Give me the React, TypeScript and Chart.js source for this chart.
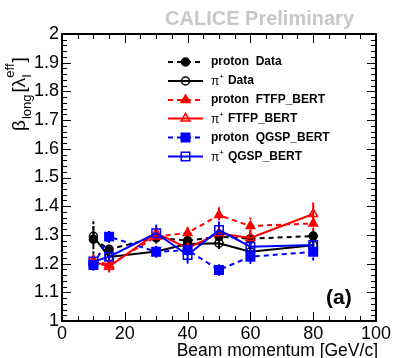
import React, { useEffect, useRef } from 'react';
import { Chart, registerables } from 'chart.js';

Chart.register(...registerables);

const momenta = [10, 15, 30, 40, 50, 60, 80];

const protonData = [1.285, 1.25, 1.29, 1.28, 1.294, 1.287, 1.296];
const protonDataErr = [0.07, 0.03, 0.02, 0.02, 0.02, 0.02, 0.02];
const piData = [1.295, 1.223, 1.242, 1.268, 1.271, 1.241, 1.264];
const piDataErr = [0.035, 0.02, 0.02, 0.02, 0.02, 0.02, 0.02];
const protonFTFP = [1.212, 1.195, 1.294, 1.307, 1.369, 1.331, 1.34];
const protonFTFPErr = [0.02, 0.02, 0.02, 0.02, 0.035, 0.03, 0.025];
const piFTFP = [1.207, 1.189, 1.306, 1.254, 1.306, 1.289, 1.373];
const piFTFPErr = [0.02, 0.02, 0.02, 0.02, 0.02, 0.03, 0.04];
const protonQGSP = [1.195, 1.294, 1.241, 1.247, 1.178, 1.224, 1.241];
const protonQGSPErr = [0.02, 0.02, 0.02, 0.02, 0.02, 0.025, 0.03];
const piQGSP = [1.207, 1.224, 1.306, 1.23, 1.317, 1.259, 1.265];
const piQGSPErr = [0.02, 0.02, 0.03, 0.03, 0.03, 0.02, 0.02];

const legendLabels = [
  ['', 'proton  Data'],
  ['π', 'Data'],
  ['', 'proton  FTFP_BERT'],
  ['π', 'FTFP_BERT'],
  ['', 'proton  QGSP_BERT'],
  ['π', 'QGSP_BERT'],
];

const xTitle = 'Beam momentum [GeV/c]';
const topLabel = 'CALICE Preliminary';
const panelLabel = '(a)';

const FONT = '"Liberation Sans", Arial, Helvetica, sans-serif';
const BLACK = '#000000';
const RED = '#ff0000';
const BLUE = '#0000ff';
const DASH = [5, 4];

type Series = {
  values: number[];
  errs: number[];
  color: string;
  dashed: boolean;
  style: string;
  filled: boolean;
  radius: number;
};

const series: Series[] = [
  { values: protonData, errs: protonDataErr, color: BLACK, dashed: true, style: 'circle', filled: true, radius: 4 },
  { values: piData, errs: piDataErr, color: BLACK, dashed: false, style: 'circle', filled: false, radius: 4 },
  { values: protonFTFP, errs: protonFTFPErr, color: RED, dashed: true, style: 'triangle', filled: true, radius: 5 },
  { values: piFTFP, errs: piFTFPErr, color: RED, dashed: false, style: 'triangle', filled: false, radius: 5 },
  { values: protonQGSP, errs: protonQGSPErr, color: BLUE, dashed: true, style: 'rect', filled: true, radius: 6 },
  { values: piQGSP, errs: piQGSPErr, color: BLUE, dashed: false, style: 'rect', filled: false, radius: 6 },
];

function drawMarker(ctx: CanvasRenderingContext2D, s: Series, x: number, y: number) {
  ctx.save();
  ctx.setLineDash([]);
  ctx.lineWidth = 1.5;
  ctx.strokeStyle = s.color;
  ctx.fillStyle = s.filled ? s.color : '#ffffff';
  ctx.beginPath();
  const r = s.radius;
  if (s.style === 'circle') {
    ctx.arc(x, y, r, 0, Math.PI * 2);
  } else if (s.style === 'triangle') {
    const h = r * 1.5;
    const half = r * 0.9;
    ctx.moveTo(x, y - r);
    ctx.lineTo(x + half, y - r + h);
    ctx.lineTo(x - half, y - r + h);
    ctx.closePath();
  } else {
    const a = r * Math.SQRT1_2;
    ctx.rect(x - a, y - a, 2 * a, 2 * a);
  }
  if (s.filled) ctx.fill();
  ctx.stroke();
  ctx.restore();
}

const decorPlugin = {
  id: 'decor',
  beforeDatasetsDraw(chart: any) {
    const ctx: CanvasRenderingContext2D = chart.ctx;
    const xs = chart.scales.x;
    const ys = chart.scales.y;
    ctx.save();
    series.forEach((s) => {
      ctx.strokeStyle = s.color;
      ctx.lineWidth = 2;
      ctx.setLineDash(s.dashed ? [3, 2] : []);
      s.values.forEach((v, i) => {
        const px = xs.getPixelForValue(momenta[i]);
        ctx.beginPath();
        ctx.moveTo(px, ys.getPixelForValue(v - s.errs[i]));
        ctx.lineTo(px, ys.getPixelForValue(v + s.errs[i]));
        ctx.stroke();
      });
    });
    ctx.restore();
  },
  afterDraw(chart: any) {
    const ctx: CanvasRenderingContext2D = chart.ctx;
    const xs = chart.scales.x;
    const ys = chart.scales.y;
    const area = chart.chartArea;
    ctx.save();
    // ticks (inside)
    ctx.strokeStyle = '#000';
    ctx.lineWidth = 1;
    ctx.beginPath();
    for (let v = 0; v <= 100; v += 5) {
      const px = Math.round(xs.getPixelForValue(v)) + 0.5;
      const len = v % 20 === 0 ? 9 : 5;
      ctx.moveTo(px, area.bottom);
      ctx.lineTo(px, area.bottom - len);
      ctx.moveTo(px, area.top);
      ctx.lineTo(px, area.top + len);
    }
    for (let k = 0; k <= 50; k++) {
      const v = 1 + k * 0.02;
      const py = Math.round(ys.getPixelForValue(v)) + 0.5;
      const len = k % 5 === 0 ? 9 : 5;
      ctx.moveTo(area.left, py);
      ctx.lineTo(area.left + len, py);
      ctx.moveTo(area.right, py);
      ctx.lineTo(area.right - len, py);
    }
    ctx.stroke();
    // frame
    ctx.lineWidth = 2;
    ctx.strokeRect(area.left, area.top, area.right - area.left, area.bottom - area.top);

    // legend
    const lx0 = 168;
    const lx1 = 203;
    const tx = 211;
    const rowY = [62, 81, 100, 118.5, 137.5, 156.5];
    series.forEach((s, i) => {
      const y = rowY[i];
      ctx.strokeStyle = s.color;
      ctx.lineWidth = 2;
      ctx.setLineDash(s.dashed ? DASH : []);
      ctx.beginPath();
      ctx.moveTo(lx0, y);
      ctx.lineTo(lx1, y);
      ctx.stroke();
      ctx.setLineDash([]);
      drawMarker(ctx, s, (lx0 + lx1) / 2, y);
      const [prefix, label] = legendLabels[i];
      ctx.fillStyle = '#000';
      ctx.textBaseline = 'middle';
      ctx.textAlign = 'left';
      let x = tx;
      if (prefix) {
        ctx.font = `12px ${FONT}`;
        ctx.fillText(prefix, x, y + 1);
        x += ctx.measureText(prefix).width;
        ctx.font = `8px ${FONT}`;
        ctx.fillText('+', x, y - 4);
        x += ctx.measureText('+').width + 4;
      }
      ctx.font = `bold 12px ${FONT}`;
      ctx.fillText(label, x, y);
    });

    // top label
    ctx.font = `bold 20px ${FONT}`;
    ctx.fillStyle = '#c8c8c8';
    ctx.textAlign = 'right';
    ctx.textBaseline = 'alphabetic';
    ctx.fillText(topLabel, 354, 25);

    // panel label
    ctx.font = `bold 21px ${FONT}`;
    ctx.fillStyle = '#000';
    ctx.textAlign = 'left';
    ctx.fillText(panelLabel, 326, 304);

    // x title
    ctx.font = `17.5px ${FONT}`;
    ctx.textAlign = 'right';
    ctx.fillText(xTitle, 378, 356);

    // y title: β_long [λ_I^eff]
    ctx.translate(25, 131);
    ctx.rotate(-Math.PI / 2);
    ctx.textAlign = 'left';
    ctx.textBaseline = 'alphabetic';
    let x = 0;
    ctx.font = `19px ${FONT}`;
    ctx.fillText('β', x, 0);
    x += ctx.measureText('β').width + 1;
    ctx.font = `13px ${FONT}`;
    ctx.fillText('long', x, 6);
    x += ctx.measureText('long').width + 2;
    ctx.font = `19px ${FONT}`;
    ctx.fillText('[', x, 0);
    x += ctx.measureText('[').width;
    ctx.fillText('λ', x, 0);
    x += ctx.measureText('λ').width;
    ctx.font = `13px ${FONT}`;
    ctx.fillText('I', x, 6);
    ctx.fillText('eff', x, -11);
    x += ctx.measureText('eff').width + 1;
    ctx.font = `19px ${FONT}`;
    ctx.fillText(']', x, 0);
    ctx.restore();
  },
};

export default function App() {
  const canvasRef = useRef<HTMLCanvasElement | null>(null);

  useEffect(() => {
    if (!canvasRef.current) return;
    const datasets = series.map((s, i) => ({
      label: legendLabels[i].join(' '),
      data: momenta.map((m, j) => ({ x: m, y: s.values[j] })),
      borderColor: s.color,
      backgroundColor: s.filled ? s.color : 'rgba(255,255,255,1)',
      pointBackgroundColor: s.filled ? s.color : 'rgba(0,0,0,0)',
      pointBorderColor: s.color,
      pointBorderWidth: 1.5,
      pointStyle: s.style,
      pointRadius: s.radius,
      borderWidth: 2,
      borderDash: s.dashed ? DASH : [],
      tension: 0,
      fill: false,
      order: 6 - i,
    }));

    const chart = new Chart(canvasRef.current, {
      type: 'line',
      data: { datasets },
      plugins: [decorPlugin],
      options: {
        animation: false,
        responsive: true,
        maintainAspectRatio: false,
        layout: { padding: { left: 0, right: 16, top: 34, bottom: 0 } },
        plugins: {
          legend: { display: false },
          tooltip: { enabled: false },
          title: { display: false },
        },
        scales: {
          x: {
            type: 'linear',
            min: 0,
            max: 100,
            grid: { display: false, drawTicks: false },
            border: { display: false },
            ticks: {
              stepSize: 20,
              color: '#000',
              padding: 2,
              maxRotation: 0,
              font: { family: FONT, size: 18 },
            },
            afterFit: (scale: any) => {
              scale.height = 37;
            },
          },
          y: {
            type: 'linear',
            min: 1,
            max: 2,
            grid: { display: false, drawTicks: false },
            border: { display: false },
            ticks: {
              stepSize: 0.1,
              color: '#000',
              padding: 3,
              font: { family: FONT, size: 18 },
              callback: (v: any) => String(Number(Number(v).toFixed(1))),
            },
            afterFit: (scale: any) => {
              scale.width = 62;
            },
          },
        },
      },
    });
    return () => chart.destroy();
  }, []);

  return (
    <div style={{ position: 'absolute', left: 0, top: 0, width: 393, height: 358, background: '#fff' }}>
      <canvas ref={canvasRef} />
    </div>
  );
}
